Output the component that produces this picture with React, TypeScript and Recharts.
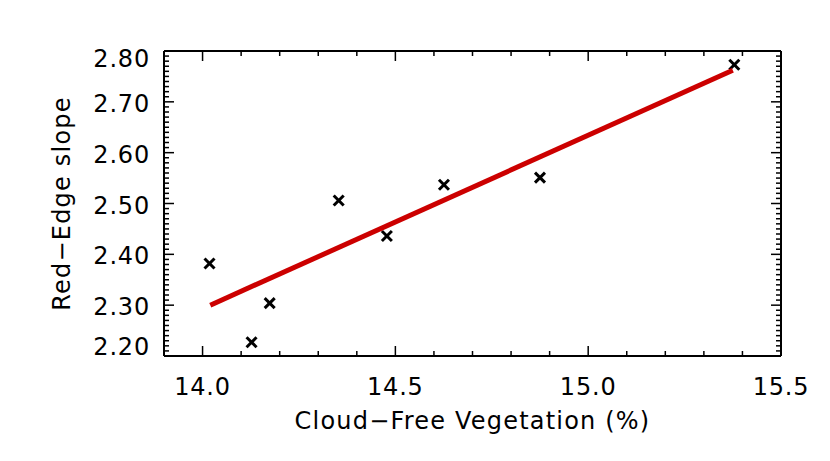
import React from 'react';
import { ScatterChart, Scatter, XAxis, YAxis } from 'recharts';

// measured points (x = cloud-free vegetation %, y = red-edge slope)
const vegX = [14.018, 14.127, 14.174, 14.353, 14.478, 14.626, 14.875, 15.379];
const slopeY = [2.382, 2.227, 2.304, 2.506, 2.436, 2.537, 2.551, 2.773];

// fitted regression line end points
const fitX = [14.02, 15.375];
const fitY = [2.3, 2.762];

const xMajorTicks = [14.0, 14.5, 15.0, 15.5];
const yMajorTicks = [2.2, 2.3, 2.4, 2.5, 2.6, 2.7, 2.8];
const xDomain = [13.9, 15.5];
const yDomain = [2.2, 2.8];

const FONT = '"DejaVu Sans", sans-serif';

const points = vegX.map((x, i) => ({ x, y: slopeY[i] }));
const fitLine = fitX.map((x, i) => ({ x, y: fitY[i] }));

// minor ticks every 0.1 on x, every 0.01 on y
const steps = (lo: number, hi: number, step: number) => {
  const out: number[] = [];
  const n = Math.round((hi - lo) / step);
  for (let i = 0; i <= n; i++) out.push(Math.round((lo + i * step) * 1000) / 1000);
  return out;
};
const xTicks = steps(xDomain[0], xDomain[1], 0.1);
const yTicks = steps(yDomain[0], yDomain[1], 0.01);

const isMajor = (v: number, majors: number[]) => majors.some((m) => Math.abs(m - v) < 1e-6);

const BottomTick = (props: any) => {
  const { x, y, payload } = props;
  const major = isMajor(payload.value, xMajorTicks);
  return (
    <g>
      <line x1={x} x2={x} y1={y} y2={y - (major ? 10 : 5)} stroke="#000" strokeWidth={1.5} />
      {major && (
        <text x={x} y={y + 31} textAnchor="middle" dominantBaseline="central" fontFamily={FONT} fontSize={24} letterSpacing={0.8} fill="#000">
          {payload.value.toFixed(1)}
        </text>
      )}
    </g>
  );
};

const TopTick = (props: any) => {
  const { x, y, payload } = props;
  const major = isMajor(payload.value, xMajorTicks);
  return <line x1={x} x2={x} y1={y} y2={y + (major ? 10 : 5)} stroke="#000" strokeWidth={1.5} />;
};

const LeftTick = (props: any) => {
  const { x, y, payload } = props;
  const v = payload.value;
  const major = isMajor(v, yMajorTicks);
  let dy = 2;
  if (Math.abs(v - yDomain[1]) < 1e-6) dy = 8;
  if (Math.abs(v - yDomain[0]) < 1e-6) dy = -9;
  return (
    <g>
      <line x1={x} x2={x + (major ? 10 : 5)} y1={y} y2={y} stroke="#000" strokeWidth={1.5} />
      {major && (
        <text x={x - 14} y={y + dy} textAnchor="end" dominantBaseline="central" fontFamily={FONT} fontSize={24} letterSpacing={0.8} fill="#000">
          {v.toFixed(2)}
        </text>
      )}
    </g>
  );
};

const RightTick = (props: any) => {
  const { x, y, payload } = props;
  const major = isMajor(payload.value, yMajorTicks);
  return <line x1={x} x2={x - (major ? 10 : 5)} y1={y} y2={y} stroke="#000" strokeWidth={1.5} />;
};

const Cross = (props: any) => {
  const { cx, cy } = props;
  if (cx == null || cy == null) return null;
  const r = 5;
  return (
    <g stroke="#000" strokeWidth={3}>
      <line x1={cx - r} y1={cy - r} x2={cx + r} y2={cy + r} />
      <line x1={cx - r} y1={cy + r} x2={cx + r} y2={cy - r} />
    </g>
  );
};

const YTitle = (props: any) => {
  const vb = props.viewBox;
  const cx = vb.x - 2;
  const cy = vb.y + vb.height / 2;
  return (
    <text x={cx} y={cy} transform={`rotate(-90 ${cx} ${cy})`} textAnchor="middle" dominantBaseline="central" fontFamily={FONT} fontSize={24} letterSpacing={1.2} fill="#000">
      Red−Edge slope
    </text>
  );
};

const XTitle = (props: any) => {
  const vb = props.viewBox;
  return (
    <text x={vb.x + vb.width / 2} y={vb.y + 65} textAnchor="middle" dominantBaseline="central" fontFamily={FONT} fontSize={24} letterSpacing={1.2} fill="#000">
      Cloud−Free Vegetation (%)
    </text>
  );
};

export default function App() {
  return (
    <div style={{ position: 'absolute', left: 0, top: 0, width: 830, height: 461, background: '#fff' }}>
      <ScatterChart width={830} height={461} margin={{ top: 50, right: 48, bottom: 45, left: 64 }}>
        <XAxis
          xAxisId="bottom"
          type="number"
          dataKey="x"
          domain={xDomain}
          ticks={xTicks}
          interval={0}
          height={60}
          tickSize={0}
          tickMargin={0}
          tickLine={false}
          axisLine={{ stroke: '#000', strokeWidth: 2 }}
          tick={<BottomTick />}
          allowDataOverflow
          label={<XTitle />}
        />
        <XAxis
          xAxisId="top"
          orientation="top"
          type="number"
          dataKey="x"
          domain={xDomain}
          ticks={xTicks}
          interval={0}
          height={1}
          tickSize={0}
          tickMargin={0}
          tickLine={false}
          axisLine={{ stroke: '#000', strokeWidth: 2 }}
          tick={<TopTick />}
          allowDataOverflow
        />
        <YAxis
          yAxisId="left"
          type="number"
          dataKey="y"
          domain={yDomain}
          ticks={yTicks}
          interval={0}
          width={100}
          tickSize={0}
          tickMargin={0}
          tickLine={false}
          axisLine={{ stroke: '#000', strokeWidth: 2 }}
          tick={<LeftTick />}
          allowDataOverflow
          label={<YTitle />}
        />
        <YAxis
          yAxisId="right"
          orientation="right"
          type="number"
          dataKey="y"
          domain={yDomain}
          ticks={yTicks}
          interval={0}
          width={1}
          tickSize={0}
          tickMargin={0}
          tickLine={false}
          axisLine={{ stroke: '#000', strokeWidth: 2 }}
          tick={<RightTick />}
          allowDataOverflow
        />
        <Scatter data={points} xAxisId="bottom" yAxisId="left" shape={<Cross />} isAnimationActive={false} />
        <Scatter
          data={fitLine}
          xAxisId="bottom"
          yAxisId="left"
          line={{ stroke: '#cc0000', strokeWidth: 5 }}
          shape={() => null}
          isAnimationActive={false}
        />
      </ScatterChart>
    </div>
  );
}
